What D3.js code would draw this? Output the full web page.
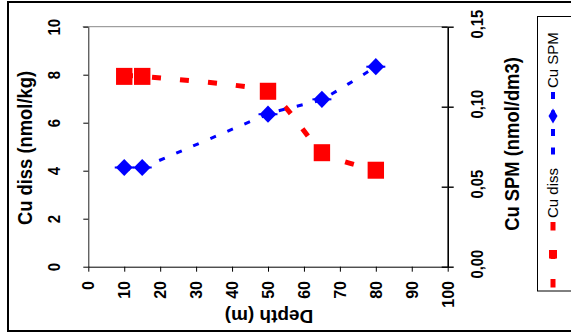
<!DOCTYPE html>
<html>
<head>
<meta charset="utf-8">
<script src="https://cdn.jsdelivr.net/npm/d3@7/dist/d3.min.js"></script>
<style>
  html, body { margin: 0; padding: 0; background: #fff; }
  svg { display: block; font-family: "Liberation Sans", Arial, sans-serif; }
</style>
</head>
<body>
<svg id="chart" width="571" height="336"></svg>
<script>
// ---- data ----
const depth = [10, 15, 50, 65, 80];
const cuDiss = [7.93, 7.93, 7.31, 4.75, 4.02];
const cuSPM = [0.062, 0.062, 0.0953, 0.1046, 0.125];
const xTicks = [0, 10, 20, 30, 40, 50, 60, 70, 80, 90, 100];
const yLeftTicks = [0, 2, 4, 6, 8, 10];
const yRightTicks = [0, 0.05, 0.10, 0.15];
const seriesNames = ["Cu diss", "Cu SPM"];
const xTitle = "Depth (m)";
const yLeftTitle = "Cu diss (nmol/kg)";
const yRightTitle = "Cu SPM (nmol/dm3)";

const svg = d3.select("#chart");
const L = 88.3, R = 447.7, T = 26.7, B = 266.7;
const RED = "#ff0000", BLUE = "#0000ff";
const FONT = "Liberation Sans, Arial, sans-serif";

const x = d3.scaleLinear().domain([0, 100]).range([L, R]);
const yL = d3.scaleLinear().domain([0, 10]).range([B, T]);
const yR = d3.scaleLinear().domain([0, 0.15]).range([B, T]);

// outer frame
svg.append("rect").attr("x", 8).attr("y", 2).attr("width", 620).attr("height", 329)
  .attr("fill", "none").attr("stroke", "#000").attr("stroke-width", 2);

// plot top border (gray)
svg.append("line").attr("x1", L - 5.6).attr("x2", R).attr("y1", T).attr("y2", T)
  .attr("stroke", "#888").attr("stroke-width", 1);

// left axis
const gL = svg.append("g").attr("transform", `translate(${L},0)`)
  .call(d3.axisLeft(yL).tickValues(yLeftTicks).tickSize(5).tickSizeOuter(0).tickFormat(d3.format("d")));
gL.select(".domain").attr("stroke", "#222");
gL.selectAll(".tick line").attr("stroke", "#000");
gL.selectAll(".tick text")
  .attr("x", null).attr("y", null).attr("dy", "0.35em")
  .attr("text-anchor", "middle")
  .attr("transform", `translate(${54 - L},0) rotate(-90) scale(0.88,1)`)
  .attr("font-size", 17).attr("font-weight", "bold").attr("fill", "#000")
  .attr("font-family", FONT);

// bottom axis
const gB = svg.append("g").attr("transform", `translate(0,${B})`)
  .call(d3.axisBottom(x).tickValues(xTicks).tickSize(5).tickSizeOuter(0).tickFormat(d3.format("d")));
gB.select(".domain").attr("stroke", "#000");
gB.selectAll(".tick line").attr("stroke", "#000");
gB.selectAll(".tick text")
  .attr("x", null).attr("y", null).attr("dy", "0.35em")
  .attr("text-anchor", "end")
  .attr("transform", `translate(0,${281 - B}) rotate(-90)`)
  .attr("font-size", 16).attr("font-weight", "bold").attr("fill", "#000")
  .attr("font-family", FONT);

// right axis
const fmtR = d => d3.format(".2f")(d).replace(".", ",");
const gR = svg.append("g").attr("transform", `translate(${R},0)`)
  .call(d3.axisRight(yR).tickValues(yRightTicks).tickSize(6).tickSizeOuter(0).tickFormat(fmtR));
gR.select(".domain").attr("stroke", "#000").attr("stroke-width", 1.6);
gR.selectAll(".tick line").attr("stroke", "#000").attr("stroke-width", 1.4);
gR.selectAll(".tick").append("line").attr("x1", 0).attr("x2", -6)
  .attr("stroke", "#000").attr("stroke-width", 1.4);
gR.selectAll(".tick text")
  .attr("x", null).attr("y", null).attr("dy", "0.35em")
  .attr("text-anchor", "middle")
  .attr("transform", `translate(${477 - R},-3) rotate(-90) scale(0.92,1)`)
  .attr("font-size", 16).attr("font-weight", "bold").attr("fill", "#000")
  .attr("font-family", FONT);

// axis titles
svg.append("text").text(yLeftTitle)
  .attr("transform", "translate(25,148) rotate(-90) scale(0.92,1)")
  .attr("text-anchor", "middle").attr("dy", "0.35em")
  .attr("font-size", 20).attr("font-weight", "bold");
svg.append("text").text(yRightTitle)
  .attr("transform", "translate(511.5,144) rotate(-90) scale(0.92,1)")
  .attr("text-anchor", "middle").attr("dy", "0.35em")
  .attr("font-size", 20).attr("font-weight", "bold");
svg.append("text").text(xTitle)
  .attr("transform", "translate(269,316.5) rotate(180)")
  .attr("text-anchor", "middle").attr("dy", "0.35em")
  .attr("font-size", 19).attr("font-weight", "bold");

// series
const dissPts = depth.map((d, i) => [x(d), yL(cuDiss[i])]);
const spmPts = depth.map((d, i) => [x(d), yR(cuSPM[i])]);
const line = d3.line().curve(d3.curveCardinal.tension(0.5));

svg.append("path").attr("d", line(dissPts))
  .attr("fill", "none").attr("stroke", RED).attr("stroke-width", 5)
  .attr("stroke-dasharray", "9,19");
svg.append("path").attr("d", line(spmPts))
  .attr("fill", "none").attr("stroke", BLUE).attr("stroke-width", 3)
  .attr("stroke-dasharray", "6,12.5");

const diamond = (cx, cy, w, h) =>
  `M${cx},${cy - h}L${cx + w},${cy}L${cx},${cy + h}L${cx - w},${cy}Z`;

svg.append("g").selectAll("rect").data(dissPts).join("rect")
  .attr("x", d => d[0] - 8.2).attr("y", d => d[1] - 8.5)
  .attr("width", 16.4).attr("height", 17).attr("fill", RED);

const gD = svg.append("g");
gD.selectAll("path").data(spmPts).join("path")
  .attr("d", d => diamond(d[0], d[1], 8.4, 8.6)).attr("fill", BLUE);
gD.selectAll("line").data(spmPts).join("line")
  .attr("x1", d => d[0] - 9.5).attr("x2", d => d[0] + 9.5)
  .attr("y1", d => d[1]).attr("y2", d => d[1])
  .attr("stroke", BLUE).attr("stroke-width", 2);

// legend (rotated)
const lg = svg.append("g");
lg.append("rect").attr("x", 537.5).attr("y", 16.5).attr("width", 80).attr("height", 274.5)
  .attr("fill", "#fff").attr("stroke", "#000").attr("stroke-width", 1);
const lx = 553;
lg.append("line").attr("x1", lx).attr("x2", lx).attr("y1", 287.5).attr("y2", 222)
  .attr("stroke", RED).attr("stroke-width", 5).attr("stroke-dasharray", "8.5,20");
lg.append("rect").attr("x", lx - 4).attr("y", 250).attr("width", 8).attr("height", 8.5).attr("fill", RED);
lg.append("text").text(seriesNames[0])
  .attr("transform", `translate(${lx},218) rotate(-90)`)
  .attr("dy", "0.35em").attr("font-size", 15);
lg.append("line").attr("x1", lx).attr("x2", lx).attr("y1", 154.5).attr("y2", 90)
  .attr("stroke", BLUE).attr("stroke-width", 4).attr("stroke-dasharray", "7,11.5");
lg.append("path").attr("d", diamond(lx, 116, 4.5, 7.5)).attr("fill", BLUE);
lg.append("text").text(seriesNames[1])
  .attr("transform", `translate(${lx},88) rotate(-90)`)
  .attr("dy", "0.35em").attr("font-size", 15);
</script>
</body>
</html>
